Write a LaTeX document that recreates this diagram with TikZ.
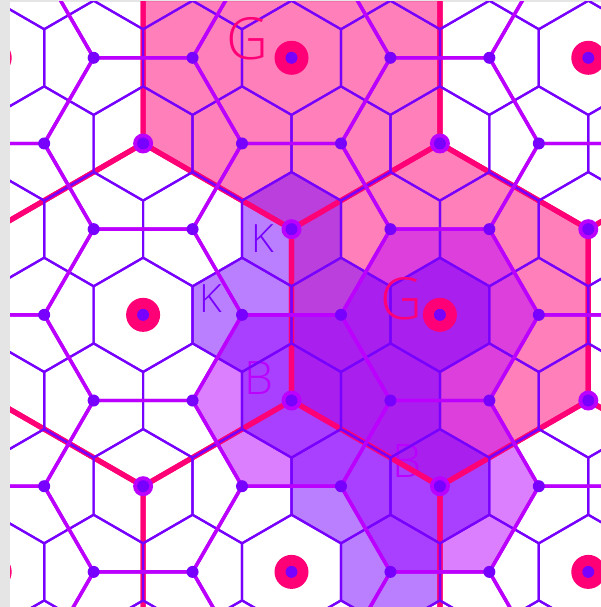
\documentclass[tikz,border=0pt]{standalone}
\usepackage{fontspec}
\setmainfont{Open Sans Light}
\definecolor{cred}{HTML}{FF0077}
\definecolor{cmag}{HTML}{BB00FF}
\definecolor{cvio}{HTML}{7700FF}
\definecolor{cbar}{HTML}{E5E5E5}
\newcommand\ctr[2]{({291.5+98.93*(#1+(#2)/2)},{57.8+85.68*(#2)})}
\newcommand\hexP[3]{\ctr{#1}{#2} ++(0,{-#3}) -- ++({.866*#3},{.5*#3}) -- ++(0,{#3}) -- ++({-.866*#3},{.5*#3}) -- ++({-.866*#3},{-.5*#3}) -- ++(0,{-#3}) -- cycle}
\newcommand\hexF[3]{\ctr{#1}{#2} ++({-#3},0) -- ++({.5*#3},{.866*#3}) -- ++({#3},0) -- ++({.5*#3},{-.866*#3}) -- ++({-.5*#3},{-.866*#3}) -- ++({-#3},0) -- cycle}
\tikzset{
  thinline/.style={draw=cvio,line width=2.2pt,line join=round},
  thickline/.style={draw=cmag,line width=3.4pt,line join=round},
  redline/.style={draw=cred,line width=5.2pt,line join=round},
  label/.style={inner sep=0pt,outer sep=0pt},
}
\begin{document}
\begin{tikzpicture}[x=1pt,y=-1pt]
\useasboundingbox (0,0) rectangle (601,607);
\fill[cbar] (0,0) rectangle (601,607);
\begin{scope}
\clip (10,2) rectangle (601,607);
\fill[white] (10,2) rectangle (601,607);
% region fills
\fill[cred,fill opacity=.5] \hexP{0}{0}{171.36} \hexP{0}{3}{171.36};
\fill[cmag,fill opacity=.5] \hexF{-2}{4}{98.93} \hexF{0}{3}{98.93} \hexF{-1}{5}{98.93};
\fill[cvio,fill opacity=.5] \hexP{-1}{2}{57.12} \hexP{-2}{3}{57.12} \hexP{-1}{3}{57.12} \hexP{0}{3}{57.12}
  \hexP{-2}{4}{57.12} \hexP{-1}{4}{57.12} \hexP{-2}{5}{57.12} \hexP{-1}{5}{57.12} \hexP{-2}{6}{57.12};
\node[label,text=cvio,font=\fontsize{39}{39}\selectfont] (k1) at (263,239) {K};
\node[label,text=cvio,font=\fontsize{39}{39}\selectfont] (k2) at (211,299) {K};
\node[label,text=cmag,font=\fontsize{46}{46}\selectfont] (b1) at (259,378.5) {B};
\node[label,text=cmag,font=\fontsize{46}{46}\selectfont] (b2) at (406.5,461) {B};
% red honeycomb
\foreach \j in {-3,0,3,6,9}{\foreach \i in {-12,-9,...,6}{
  \draw[redline] \hexP{\i}{\j}{171.36};
}}
% thin tiling
\foreach \j in {-1,...,8}{\foreach \i in {-9,...,6}{
  \draw[thinline] \hexP{\i}{\j}{57.12};
}}
% thick honeycomb
\foreach \j in {-2,...,9}{\foreach \i in {-10,...,7}{
  \pgfmathtruncatemacro\m{mod(\i-\j+60,3)}
  \ifnum\m=0
    \draw[thickline] \hexF{\i}{\j}{98.93};
  \fi
}}
% dots
\foreach \j in {-2,...,9}{\foreach \i in {-10,...,7}{
  \pgfmathtruncatemacro\m{mod(\i-\j+60,3)}
  \pgfmathtruncatemacro\n{mod(\i+60,3)}
  \ifnum\m=0
    \ifnum\n=0
      \fill[cred] \ctr{\i}{\j} circle (17);
    \else
      \fill[cmag] \ctr{\i}{\j} circle (10);
    \fi
  \fi
  \fill[cvio] \ctr{\i}{\j} circle (6);
}}
\end{scope}
\node[label,text=cred,font=\fontsize{58}{58}\selectfont] (g1) at (247.5,39) {G};
\node[label,text=cred,font=\fontsize{58}{58}\selectfont] (g2) at (401.5,299) {G};
\end{tikzpicture}
\end{document}
